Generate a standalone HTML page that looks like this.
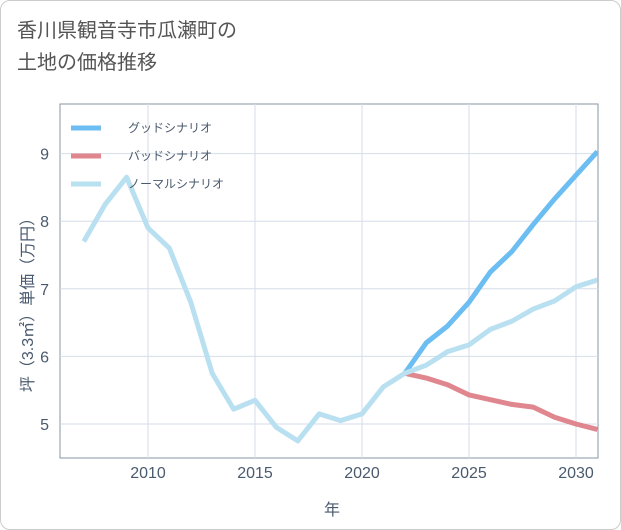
<!DOCTYPE html>
<html><head><meta charset="utf-8"><style>
body{margin:0;background:#fff;font-family:"Liberation Sans","Noto Sans CJK JP",sans-serif;}
#wrap{position:relative;width:619px;height:528px;border:1px solid #ccc;border-radius:10px;overflow:hidden;background:#fff}
#title{position:absolute;left:16px;top:14px;font-size:20px;line-height:32px;color:#555;}
svg{position:absolute;left:0;top:0}
</style></head><body>
<div id="wrap">
<div id="title">香川県観音寺市瓜瀬町の<br>土地の価格推移</div>
<svg id="chart" width="621" height="530"></svg>
</div>
<script>
const years=[2007,2008,2009,2010,2011,2012,2013,2014,2015,2016,2017,2018,2019,2020,2021,2022,2023,2024,2025,2026,2027,2028,2029,2030,2031];
const normalVals=[7.7,8.25,8.65,7.9,7.6,6.8,5.75,5.22,5.35,4.95,4.75,5.15,5.05,5.15,5.55,5.75,5.87,6.07,6.17,6.4,6.52,6.7,6.82,7.03,7.13];
const goodYears=[2022,2023,2024,2025,2026,2027,2028,2029,2030,2031];
const goodVals=[5.75,6.2,6.45,6.8,7.25,7.55,7.95,8.33,8.68,9.03];
const badVals=[5.75,5.68,5.58,5.43,5.36,5.29,5.25,5.1,5.0,4.92];
const xTicks=[2010,2015,2020,2025,2030];
const yTicks=[5,6,7,8,9];
const L=59,R=597,T=103,B=457;
const x=v=>147+(v-2010)*21.4;
const y=v=>423-(v-5)*67.6;
const svg=document.getElementById('chart');
const NS='http://www.w3.org/2000/svg';
function mk(t,a){const e=document.createElementNS(NS,t);for(const k in a)e.setAttribute(k,a[k]);svg.appendChild(e);return e;}
let bg=mk('rect',{x:L,y:T,width:R-L,height:B-T,fill:'#fff',stroke:'#8a96a3','stroke-width':1});


xTicks.forEach(v=>{let g=mk('line',{x1:x(v),x2:x(v),y1:T,y2:B,stroke:'#d5dee8'});


let t=mk('text',{x:x(v),y:477,'text-anchor':'middle','font-size':16,fill:'#4a5a6e'});t.textContent=v;

});
yTicks.forEach(v=>{let g=mk('line',{x1:L,x2:R,y1:y(v),y2:y(v),stroke:'#d5dee8'});


let t=mk('text',{x:48,y:y(v)+6,'text-anchor':'end','font-size':16,fill:'#4a5a6e'});t.textContent=v;

});
let xt=mk('text',{x:331,y:514,'text-anchor':'middle','font-size':16,fill:'#4a5a6e'});xt.textContent='年';


let yt=mk('text',{x:0,y:0,'text-anchor':'middle','font-size':16,fill:'#4a5a6e',transform:'translate(32,300) rotate(-90)'});yt.textContent='坪（3.3㎡）単価（万円）';


const clip=mk('clipPath',{id:'c'});const cr=document.createElementNS(NS,'rect');
cr.setAttribute('x',L);cr.setAttribute('y',T);cr.setAttribute('width',R-L);cr.setAttribute('height',B-T);clip.appendChild(cr);
function line(xs,vs,col,name){let p=mk('polyline',{points:xs.map((v,i)=>x(v)+','+y(vs[i])).join(' '),fill:'none',stroke:col,'stroke-width':5,'stroke-linejoin':'round','clip-path':'url(#c)'});

}
line(goodYears,badVals,'#e0868e','bad-scenario-line');
line(goodYears,goodVals,'#6cbef2','good-scenario-line');
line(years,normalVals,'#b9e0f0','normal-scenario-line');
const leg=[['グッドシナリオ','#6cbef2',127],['バッドシナリオ','#e0868e',155],['ノーマルシナリオ','#b9e0f0',183]];
leg.forEach(l=>{let s=mk('line',{x1:70,x2:100,y1:l[2],y2:l[2],stroke:l[1],'stroke-width':5});


let t=mk('text',{x:127,y:l[2]+4,'font-size':12,fill:'#4a5a6e'});t.textContent=l[0];

});
</script>
</body></html>
